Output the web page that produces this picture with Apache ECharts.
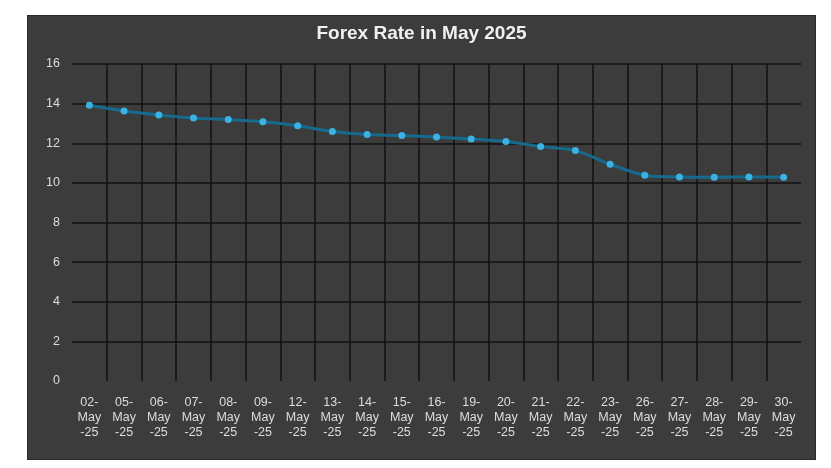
<!DOCTYPE html><html><head><meta charset="utf-8"><script src="https://cdn.jsdelivr.net/npm/echarts@6/dist/echarts.min.js"></script>
<style>body{margin:0;background:#fff}#c{position:absolute;left:27px;top:15px;width:787px;height:443px;background:#3c3c3c;border:1px solid #2a2a2a}</style></head><body><div id="c"></div><script>
const categories=['02-May-25','05-May-25','06-May-25','07-May-25','08-May-25','09-May-25','12-May-25','13-May-25','14-May-25','15-May-25','16-May-25','19-May-25','20-May-25','21-May-25','22-May-25','23-May-25','26-May-25','27-May-25','28-May-25','29-May-25','30-May-25'];
const rates=[13.92,13.63,13.43,13.28,13.2,13.08,12.88,12.59,12.44,12.39,12.31,12.22,12.09,11.83,11.63,10.94,10.39,10.3,10.29,10.3,10.29];
const c=echarts.init(document.getElementById('c'));
c.setOption({animation:false,
title:{text:'Forex Rate in May 2025',left:'center',top:3,textStyle:{color:'#f0f0f0',fontSize:19,fontWeight:'bold',fontFamily:'Liberation Sans'}},
grid:{left:44,right:14,top:48,bottom:78},
xAxis:{type:'category',data:categories,boundaryGap:true,axisLine:{show:false},axisTick:{show:false},
 splitLine:{show:true,interval:0,showMinLine:false,showMaxLine:false,lineStyle:{color:'#111',width:1.5}},
 axisLabel:{interval:0,color:'#ddd',fontSize:12.5,fontFamily:'Liberation Sans',lineHeight:15,margin:14,formatter:v=>{const p=v.split('-');return p[0]+'-\n'+p[1]+'\n-'+p[2];}}},
yAxis:{type:'value',min:0,max:16,interval:2,axisLine:{show:false},axisTick:{show:false},
 axisLabel:{color:'#ddd',fontSize:12.5,fontFamily:'Liberation Sans',margin:12},
 splitLine:{showMinLine:false,lineStyle:{color:'#111',width:1.5}}},
series:[{type:'line',data:rates,smooth:0.3,symbol:'circle',symbolSize:7,
 lineStyle:{color:'#156a8e',width:3},itemStyle:{color:'#3cb2e3'}}]});
</script></body></html>
